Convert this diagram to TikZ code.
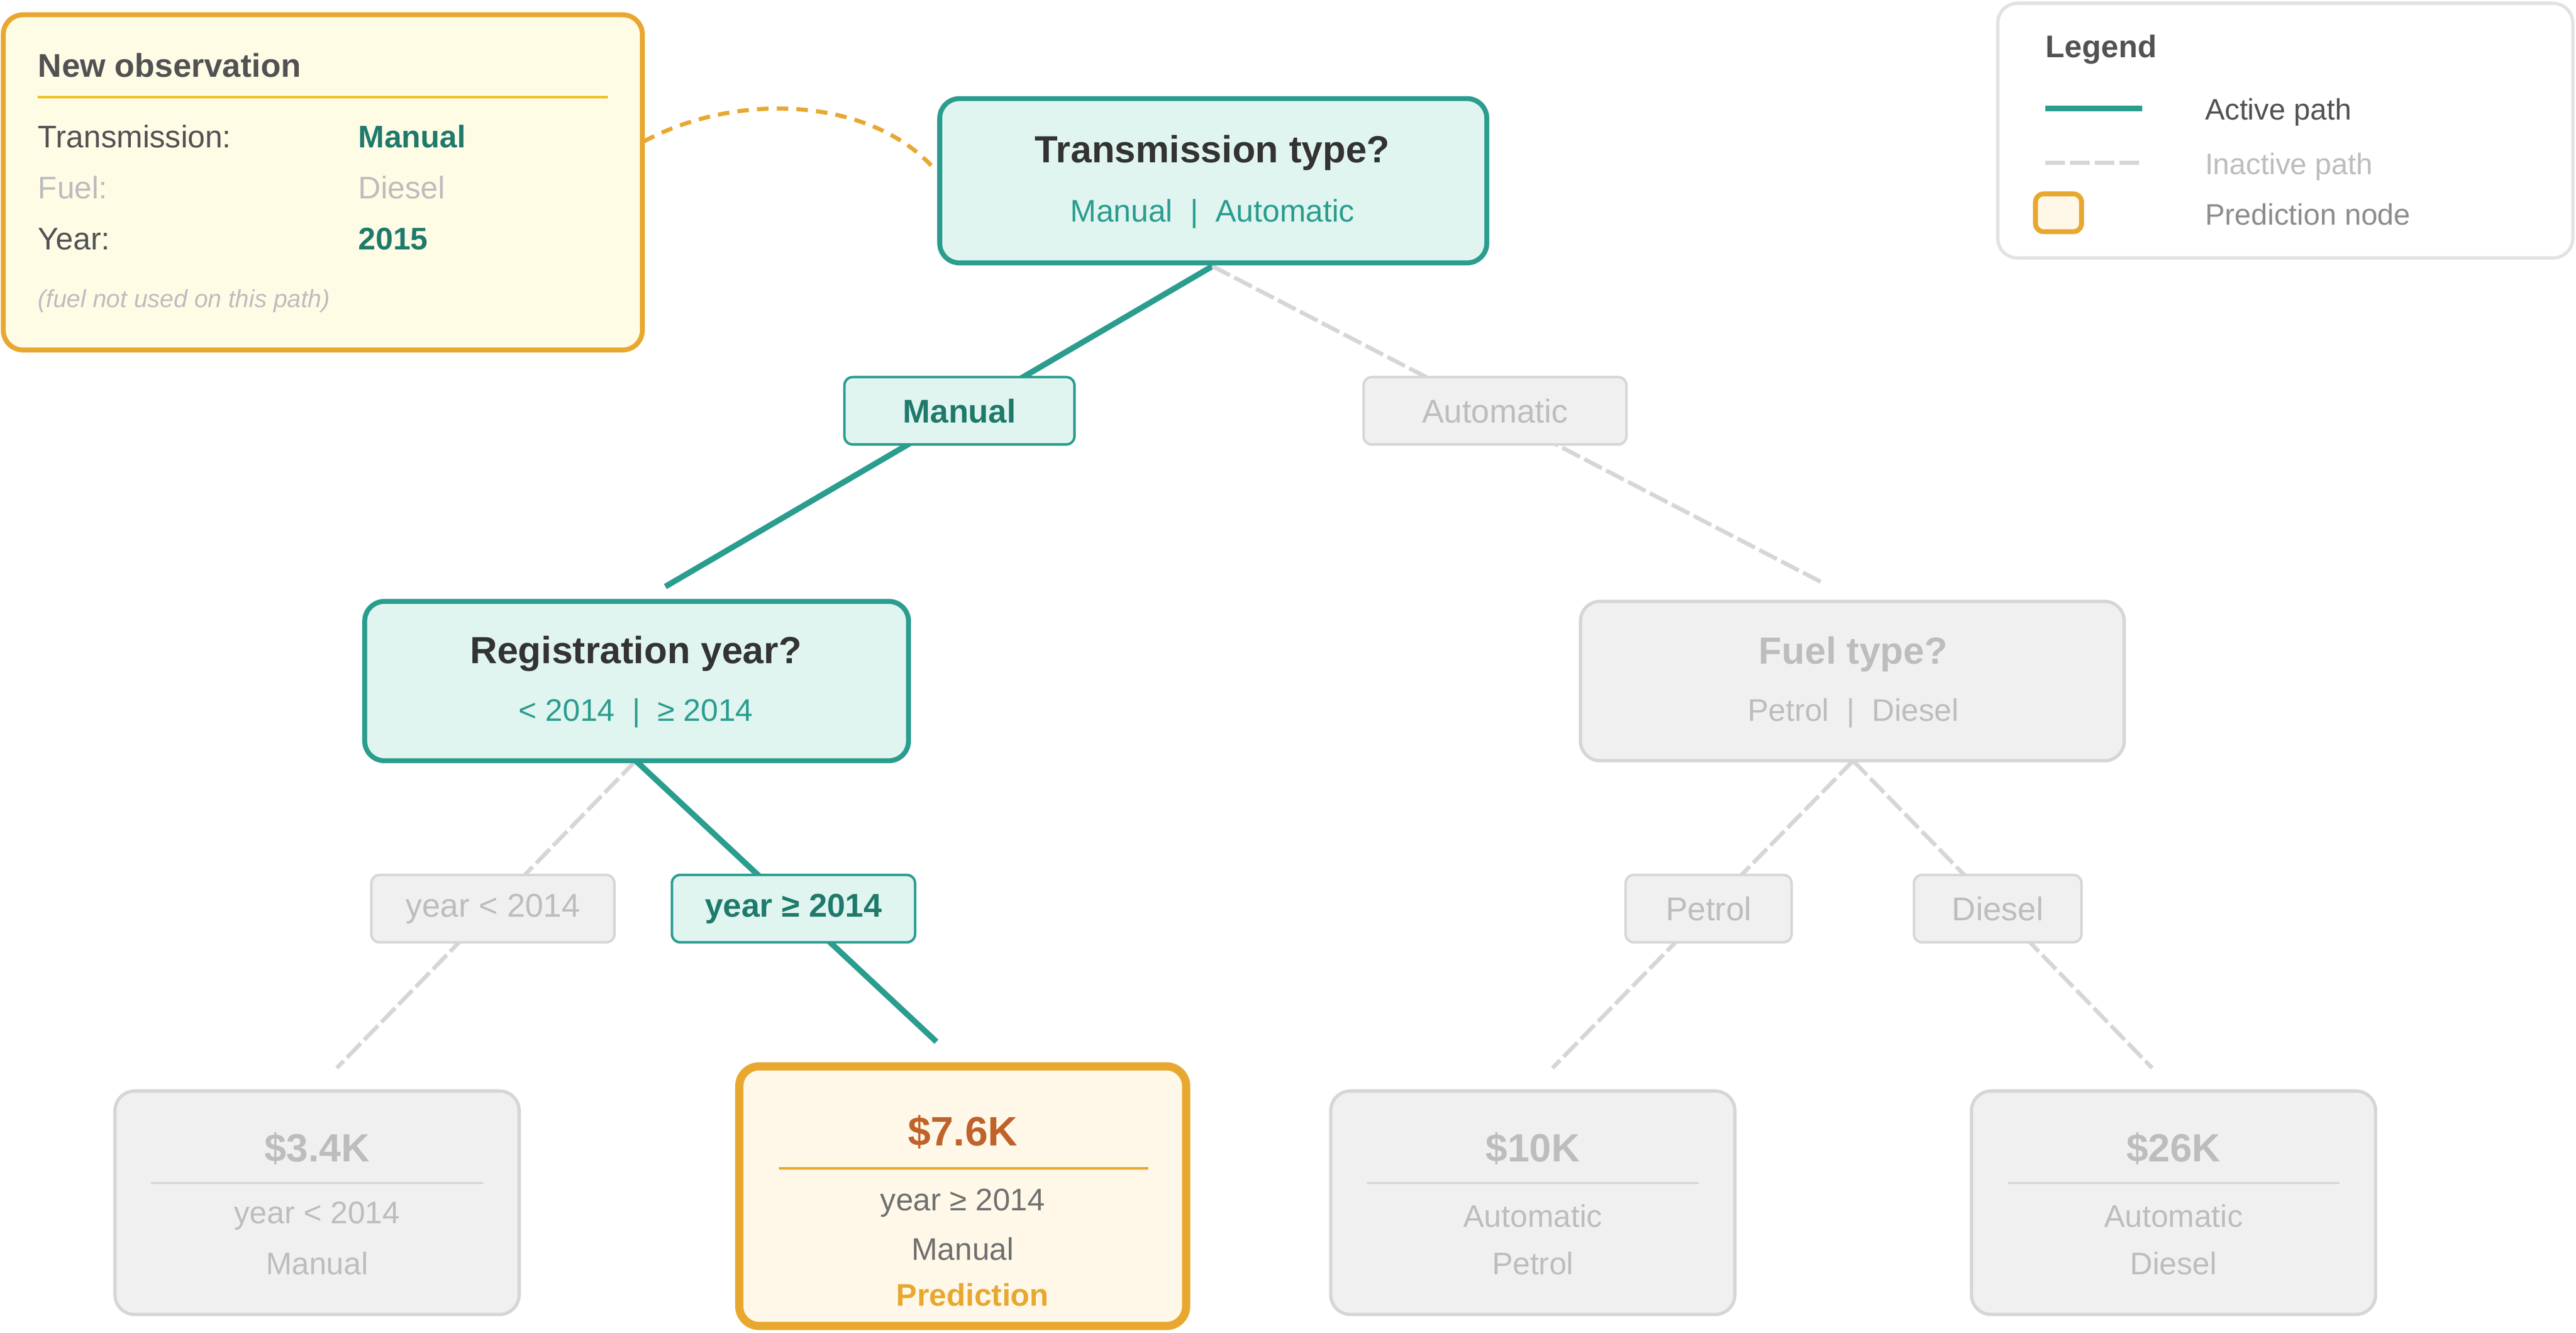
\documentclass[tikz,border=0pt]{standalone}
\usepackage{fontspec}
\setmainfont{Liberation Sans}
\begin{document}
\definecolor{teal}{HTML}{2A9D8F}
\definecolor{dteal}{HTML}{1F7A6C}
\definecolor{tfill}{HTML}{E0F4F0}
\definecolor{gfill}{HTML}{F0F0F0}
\definecolor{gline}{HTML}{D6D6D6}
\definecolor{gtext}{HTML}{BDBDBD}
\definecolor{dark}{HTML}{333333}
\definecolor{orng}{HTML}{E8A830}
\definecolor{ofill}{HTML}{FFF8E8}
\definecolor{yfill}{HTML}{FFFCE6}
\definecolor{rust}{HTML}{C0622A}
\definecolor{mid}{HTML}{707070}
\newcommand{\fs}[1]{\fontsize{#1}{#1}\selectfont}
\begin{tikzpicture}[x=1pt,y=-1pt,
 box/.style={rounded corners=12pt,line width=3pt},
 act/.style={box,draw=teal,fill=tfill},
 ina/.style={box,draw=gline,fill=gfill,line width=2pt},
 lab/.style={rounded corners=5pt,line width=1.5pt,minimum height=41pt,inner sep=0pt},
 alab/.style={lab,draw=teal,fill=tfill,text=dteal,font=\fs{20}\bfseries},
 ilab/.style={lab,draw=gline,fill=gfill,text=gtext,font=\fs{20}},
 ae/.style={draw=teal,line width=3.5pt},
 ie/.style={draw=gline,line width=2.5pt,dash pattern=on 12pt off 3pt},
 t/.style={inner sep=0pt,anchor=base west}]
\useasboundingbox (0,0) rectangle (1568,811);
% edges first
\coordinate (rs) at (738,162);
\coordinate (e1) at (405,357);
\coordinate (e2) at (1110,355);
\coordinate (rgs) at (387,463);
\coordinate (fs) at (1128,463);
\coordinate (e3) at (205,650);
\coordinate (e4) at (570,634);
\coordinate (e5) at (945,650);
\coordinate (e6) at (1310,650);
\draw[ae] (rs) -- (e1);
\draw[ie] (rs) -- (e2);
\draw[ie] (rgs) -- (e3);
\draw[ae] (rgs) -- (e4);
\draw[ie] (fs) -- (e5);
\draw[ie] (fs) -- (e6);
% observation box
\draw[box,draw=orng,fill=yfill] (2,9) rectangle (391,213);
\node[t,text=dark!85,font=\fs{20}\bfseries] (ot) at (23,47) {New observation};
\draw[draw=orng!70!yellow,line width=1.5pt] (23,59) -- (370,59);
\node[t,text=dark!85,font=\fs{19}] (o1) at (23,90) {Transmission:};
\node[t,text=dteal,font=\fs{19}\bfseries] (o1v) at (218,90) {Manual};
\node[t,text=gtext,font=\fs{19}] (o2) at (23,121) {Fuel:};
\node[t,text=gtext,font=\fs{19}] (o2v) at (218,121) {Diesel};
\node[t,text=dark!85,font=\fs{19}] (o3) at (23,152) {Year:};
\node[t,text=dteal,font=\fs{19}\bfseries] (o3v) at (218,152) {2015};
\node[t,text=gtext,font=\fs{15}\itshape] (o4) at (23,187) {(fuel not used on this path)};
\coordinate (c1) at (392,86);
\coordinate (c2) at (568,102);
\draw[orng,line width=2.5pt,dash pattern=on 7pt off 5pt] (c1) .. controls (450,55) and (530,60) .. (c2);
% root
\draw[act] (572,60) rectangle (905,160);
\node[text=dark,font=\fs{23}\bfseries] (root) at (738,93) {Transmission type?};
\node[text=teal,font=\fs{19}] (roots) at (738,130) {Manual\ \ |\ \ Automatic};
\node[alab,minimum width=140pt] (l1) at (584,250) {Manual};
\node[ilab,minimum width=160pt] (l2) at (910,250) {Automatic};
% registration
\draw[act] (222,366) rectangle (553,463);
\node[text=dark,font=\fs{23}\bfseries] (reg) at (387,398) {Registration year?};
\node[text=teal,font=\fs{19}] (regs) at (387,434) {< 2014\ \ |\ \ ≥ 2014};
% fuel
\draw[ina] (962,366) rectangle (1293,463);
\node[text=gtext,font=\fs{23}\bfseries] (fuel) at (1128,398) {Fuel type?};
\node[text=gtext,font=\fs{19}] (fuels) at (1128,434) {Petrol\ \ |\ \ Diesel};
\node[ilab,minimum width=148pt] (l3) at (300,553) {year < 2014};
\node[alab,minimum width=148pt] (l4) at (483,553) {year ≥ 2014};
\node[ilab,minimum width=101pt] (l5) at (1040,553) {Petrol};
\node[ilab,minimum width=102pt] (l6) at (1216,553) {Diesel};
% leaves
\foreach \n/\x/\v/\a/\b in {p1/193/\$3.4K/year < 2014/Manual, p3/933/\$10K/Automatic/Petrol, p4/1323/\$26K/Automatic/Diesel}{
 \draw[ina] (\x-123,664) rectangle (\x+123,800);
 \node[text=gtext,font=\fs{24}\bfseries] (\n) at (\x,699) {\v};
 \draw[gline,line width=1.5pt] (\x-101,720) -- (\x+101,720);
 \node[text=gtext,font=\fs{19}] (\n a) at (\x,740) {\a};
 \node[text=gtext,font=\fs{19}] (\n b) at (\x,769) {\b};
}
\draw[box,draw=orng,fill=ofill,line width=5pt] (450,649) rectangle (722,807);
\node[text=rust,font=\fs{25}\bfseries] (p2) at (586,689) {\$7.6K};
\draw[orng,line width=1.5pt] (474,711) -- (699,711);
\node[text=mid,font=\fs{19}] (p2a) at (586,732) {year ≥ 2014};
\node[text=mid,font=\fs{19}] (p2b) at (586,760) {Manual};
\node[text=orng,font=\fs{19}\bfseries] (p2c) at (592,788) {Prediction};
% legend
\draw[rounded corners=12pt,draw=gline!70,fill=white,line width=2pt] (1216,2) rectangle (1566,157);
\node[t,text=dark!85,font=\fs{19}\bfseries] (lg) at (1245,35) {Legend};
\coordinate (la) at (1245,66); \coordinate (lb) at (1304,66);
\draw[ae] (la) -- (lb);
\node[t,text=dark!85,font=\fs{18}] (lt1) at (1342,73) {Active path};
\coordinate (lc) at (1245,99); \coordinate (ld) at (1304,99);
\draw[ie] (lc) -- (ld);
\node[t,text=gtext,font=\fs{18}] (lt2) at (1342,106) {Inactive path};
\draw[rounded corners=5pt,draw=orng,fill=ofill,line width=3pt] (1239,118) rectangle (1267,141);
\node[t,text=mid!80,font=\fs{18}] (lt3) at (1342,137) {Prediction node};
\end{tikzpicture}
\end{document}
